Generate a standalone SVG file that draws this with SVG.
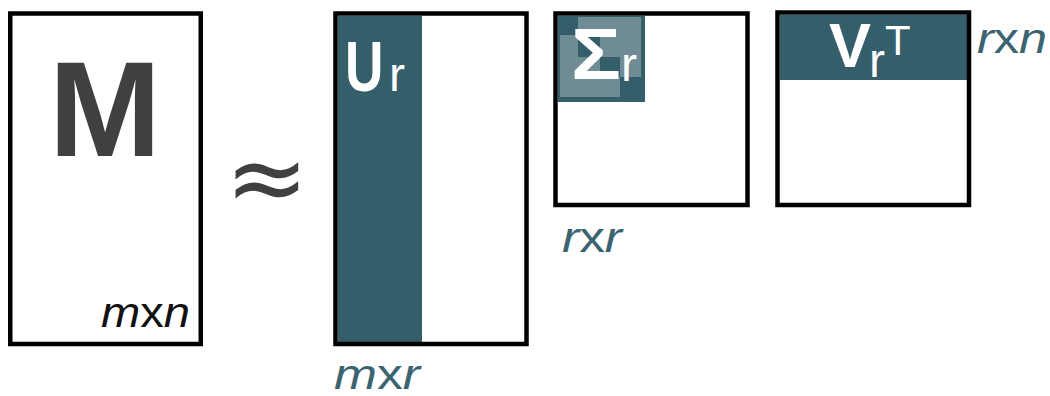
<svg xmlns="http://www.w3.org/2000/svg" width="1050" height="396" viewBox="0 0 1050 396">
<style>
.frame{fill:none;stroke:#000;stroke-width:4.5}
.dark{fill:#345e6a}
.light{fill:#6f8c95}
.big{font-family:"Liberation Sans",Arial,sans-serif;fill:#fff;font-weight:bold}
.sub{font-weight:normal}
.lbl{font-family:"Liberation Sans",Arial,sans-serif;font-style:italic;font-size:42px;fill:#3b6470}
.up{font-style:normal}
</style>
<rect width="1050" height="396" fill="#fff"/>
<g id="M">
<rect class="frame" x="10.25" y="13.5" width="190.5" height="330.5"/>
<text x="105" y="156" text-anchor="middle" font-family="Liberation Sans,Arial,sans-serif" font-weight="bold" font-size="135" fill="#404040">M</text>
<text class="lbl" x="101" y="327" textLength="89" lengthAdjust="spacingAndGlyphs" style="fill:#111">m<tspan class="up">x</tspan>n</text>
</g>
<g id="approx">
<text x="267" y="212" text-anchor="middle" font-family="DejaVu Sans,sans-serif" font-size="100" fill="#404040">≈</text>
</g>
<g id="U">
<rect class="dark" x="338" y="16" width="84" height="326"/>
<rect class="frame" x="335.5" y="13.5" width="191" height="330.5"/>
<text class="big" transform="translate(345,91) scale(0.75,1)" font-size="71">U</text>
<text class="big sub" x="389" y="91" font-size="48">r</text>
<text class="lbl" x="334" y="389" textLength="86" lengthAdjust="spacingAndGlyphs">m<tspan class="up">x</tspan>r</text>
</g>
<g id="Sigma">
<rect class="dark" x="558" y="16" width="87" height="86"/>
<rect class="light" x="578" y="17" width="63" height="60"/>
<rect class="light" x="560" y="35" width="60" height="62"/>
<rect class="dark" x="578" y="35" width="22" height="22"/>
<rect class="dark" x="600" y="57" width="20" height="20"/>
<rect class="frame" x="555.5" y="13.5" width="192" height="191.5"/>
<text class="big" x="571" y="79" font-size="72"><tspan textLength="50" lengthAdjust="spacingAndGlyphs">Σ</tspan><tspan class="sub" x="621" y="81" font-size="48">r</tspan></text>
<text class="lbl" x="562" y="252" textLength="60" lengthAdjust="spacingAndGlyphs">r<tspan class="up">x</tspan>r</text>
</g>
<g id="Vt">
<rect class="dark" x="780" y="15" width="187" height="65"/>
<rect class="frame" x="777.5" y="12.5" width="191.5" height="192.5"/>
<text class="big" x="829" y="67" font-size="63">V<tspan class="sub" x="869" y="77" font-size="48">r</tspan><tspan class="sub" x="885" y="55" font-size="42">T</tspan></text>
<text class="lbl" x="977" y="53" font-size="40" textLength="70" lengthAdjust="spacingAndGlyphs">r<tspan class="up">x</tspan>n</text>
</g>
<g id="connectors"></g>
</svg>
